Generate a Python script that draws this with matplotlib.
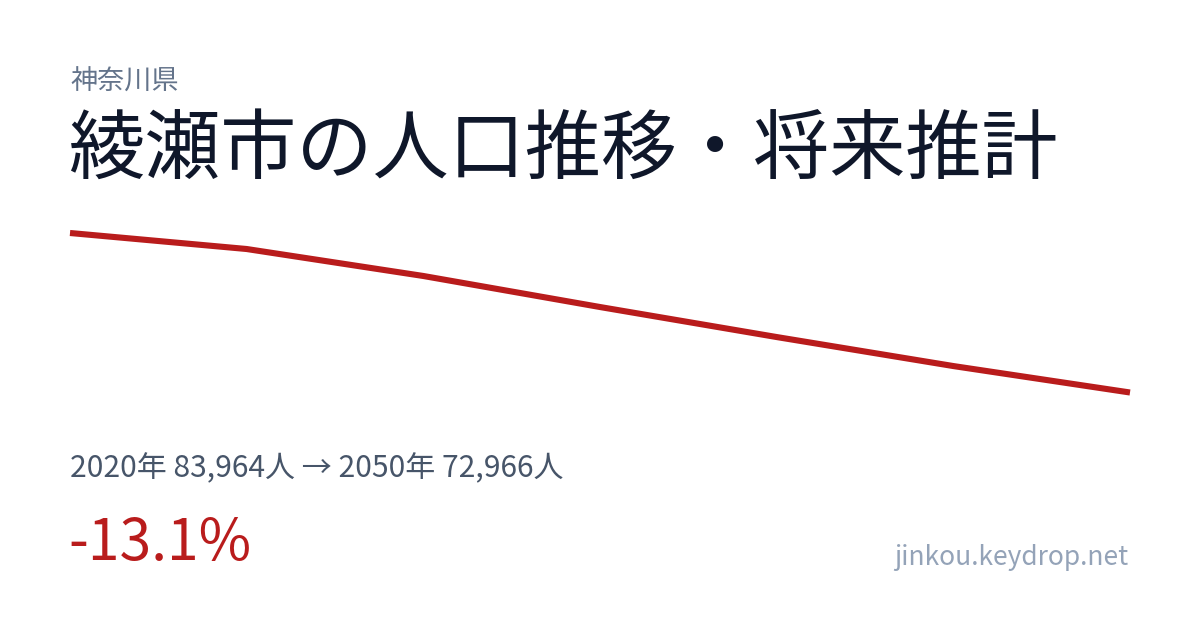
import matplotlib
matplotlib.use("Agg")
import matplotlib.pyplot as plt

plt.rcParams['font.family'] = ['Noto Sans CJK JP', 'DejaVu Sans']

# 人口推移（読み取り値）
years = [2020, 2025, 2030, 2035, 2040, 2045, 2050]
population = [83964, 82860, 81000, 78860, 76790, 74790, 72966]

prefecture = "神奈川県"
title = "綾瀬市の人口推移・将来推計"
summary = "2020年 83,964人 → 2050年 72,966人"
change = "-13.1%"
site = "jinkou.keydrop.net"

W, H = 1200, 630
fig = plt.figure(figsize=(W / 100, H / 100), dpi=100)
fig.patch.set_facecolor("white")

# 線グラフの領域 (ピクセル指定)
top_px, bottom_px = 233, 392.5
ax = fig.add_axes([70 / W, 1 - bottom_px / H, 1060 / W, (bottom_px - top_px) / H])
ax.plot(years, population, color="#b91c1c", linewidth=4.4, solid_capstyle="butt",
        solid_joinstyle="round", clip_on=False)
ax.set_xlim(years[0], years[-1])
ax.set_ylim(min(population), max(population))
ax.axis("off")


def px(x, y):
    return x / W, 1 - y / H


fig.text(*px(70, 90), prefecture, fontsize=19.5, color="#64748b", va="baseline", ha="left")
fig.text(*px(68, 173), title, fontsize=54.8, color="#0f172a", va="baseline", ha="left")
fig.text(*px(70, 477), summary, fontsize=21.6, color="#475569", va="baseline", ha="left")
fig.text(*px(68, 560), change, fontsize=41, color="#b91c1c", va="baseline", ha="left")
fig.text(*px(1128, 565), site, fontsize=19, color="#94a3b8", va="baseline", ha="right")

fig.savefig("out.png", dpi=100, facecolor="white")
